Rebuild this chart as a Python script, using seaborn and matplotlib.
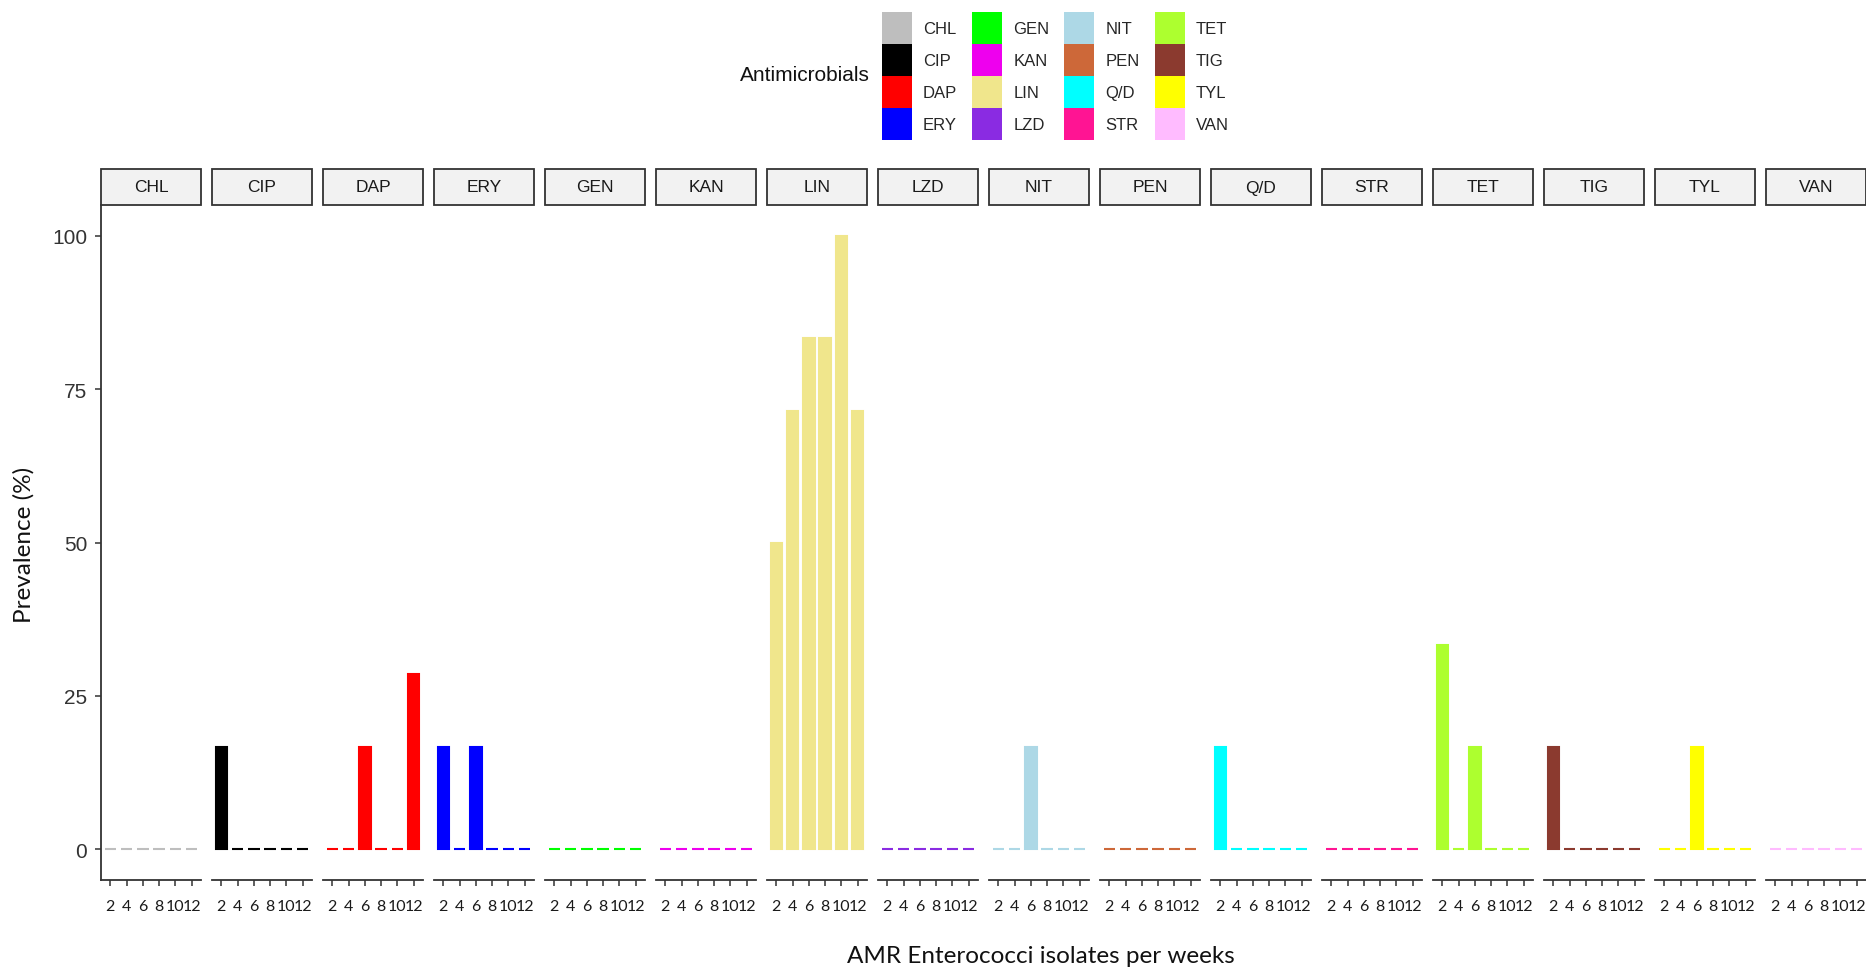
import matplotlib
matplotlib.use("Agg")
import matplotlib.pyplot as plt
import seaborn as sns
import pandas as pd
from matplotlib.patches import Rectangle, Patch

# ---------------- data ----------------
weeks = [2, 4, 6, 8, 10, 12]
drugs = ["CHL", "CIP", "DAP", "ERY", "GEN", "KAN", "LIN", "LZD",
         "NIT", "PEN", "Q/D", "STR", "TET", "TIG", "TYL", "VAN"]
drug_colors = ["#BEBEBE", "#000000", "#FF0000", "#0000FF", "#00FF00", "#EE00EE",
               "#F0E68C", "#8A2BE2", "#ADD8E6", "#CD6839", "#00FFFF", "#FF1493",
               "#ADFF2F", "#8B3A2F", "#FFFF00", "#FFBBFF"]

chl = [0, 0, 0, 0, 0, 0]
cip = [16.7, 0, 0, 0, 0, 0]
dap = [0, 0, 16.7, 0, 0, 28.6]
ery = [16.7, 0, 16.7, 0, 0, 0]
gen = [0, 0, 0, 0, 0, 0]
kan = [0, 0, 0, 0, 0, 0]
lin = [50.0, 71.4, 83.3, 83.3, 100.0, 71.4]
lzd = [0, 0, 0, 0, 0, 0]
nit = [0, 0, 16.7, 0, 0, 0]
pen = [0, 0, 0, 0, 0, 0]
qd = [16.7, 0, 0, 0, 0, 0]
strp = [0, 0, 0, 0, 0, 0]
tet = [33.3, 0, 16.7, 0, 0, 0]
tig = [16.7, 0, 0, 0, 0, 0]
tyl = [0, 0, 16.7, 0, 0, 0]
van = [0, 0, 0, 0, 0, 0]

yticks = [0, 25, 50, 75, 100]
x_title = "AMR Enterococci isolates per weeks"
y_title = "Prevalence (%)"
legend_title = "Antimicrobials"

series = [chl, cip, dap, ery, gen, kan, lin, lzd, nit, pen, qd, strp, tet, tig, tyl, van]
rows = []
for d, vals in zip(drugs, series):
    for w, v in zip(weeks, vals):
        rows.append({"drug": d, "week": w, "prev": v})
df = pd.DataFrame(rows)

# ---------------- style ----------------
sns.set_theme(style="white")
plt.rcParams["font.family"] = ["Liberation Sans", "DejaVu Sans"]

W, H = 1866, 970
fig = plt.figure(figsize=(W / 100, H / 100), dpi=100)

axis_col = "#333333"
left0, pitch, pw = 101, 111, 100
ybot, ytop = 881, 206
strip_h = 36

for i, (d, col) in enumerate(zip(drugs, drug_colors)):
    ax = fig.add_axes([(left0 + pitch * i) / W, (H - ybot) / H, pw / W, (ybot - ytop) / H])
    sub = df[df["drug"] == d]
    sns.barplot(data=sub, x="week", y="prev", order=weeks, color=col, saturation=1,
                width=0.7, edgecolor=col, linewidth=1.5, errorbar=None, ax=ax)
    ax.set_xlim(-0.57, 5.57)
    ax.set_ylim(-5, 105)
    ax.set_xlabel("")
    ax.set_ylabel("")
    for s in ["top", "right"]:
        ax.spines[s].set_visible(False)
    ax.spines["bottom"].set_color(axis_col)
    ax.spines["bottom"].set_linewidth(1.3)
    ax.tick_params(axis="x", bottom=True, direction="out", length=4, width=1.1,
                   color=axis_col, pad=9.5, labelsize=11.5, labelcolor="#1a1a1a")
    for lab in ax.get_xticklabels():
        lab.set_fontfamily("Lato")
    if i == 0:
        ax.spines["left"].set_color(axis_col)
        ax.spines["left"].set_linewidth(1.3)
        ax.set_yticks(yticks)
        ax.set_yticklabels([str(t) for t in yticks])
        ax.tick_params(axis="y", left=True, direction="out", length=4, width=1.1,
                       color=axis_col, pad=6, labelsize=15, labelcolor="#333333")
    else:
        ax.spines["left"].set_visible(False)
        ax.set_yticks([])
    # facet strip
    sh = strip_h / (ybot - ytop)
    ax.add_patch(Rectangle((0, 1), 1, sh, transform=ax.transAxes, clip_on=False,
                           facecolor="#F2F2F2", edgecolor=axis_col, linewidth=1.3))
    ax.text(0.5, 1 + sh / 2, d, transform=ax.transAxes, ha="center", va="center",
            fontsize=12.5, color="#1a1a1a")

# axis titles
fig.text(1041 / W, 1 - 957 / H, x_title, ha="center", va="center",
         fontsize=17.5, family="Lato", color="#111111")
fig.text(24 / W, 1 - 545 / H, y_title, ha="center", va="center", rotation=90,
         fontsize=17.5, family="Lato", color="#111111")

# legend
fs = 12
px = fs * 100 / 72
hh = (32 / px - 0.245) / 0.65
handles = [Patch(facecolor=c, edgecolor="none") for c in drug_colors]
fig.legend(handles=handles, labels=drugs, ncol=4, loc="upper left",
           bbox_to_anchor=(882 / W, 1 - 12.5 / H), frameon=False, borderpad=0,
           borderaxespad=0, handlelength=30 / px, handleheight=hh,
           handletextpad=0.66, labelspacing=0, columnspacing=0.9,
           prop={"family": "Liberation Sans", "size": fs})
fig.text(870 / W, 1 - 76 / H, legend_title, ha="right", va="center",
         fontsize=15, color="#111111")

fig.savefig("out.png", dpi=100)
